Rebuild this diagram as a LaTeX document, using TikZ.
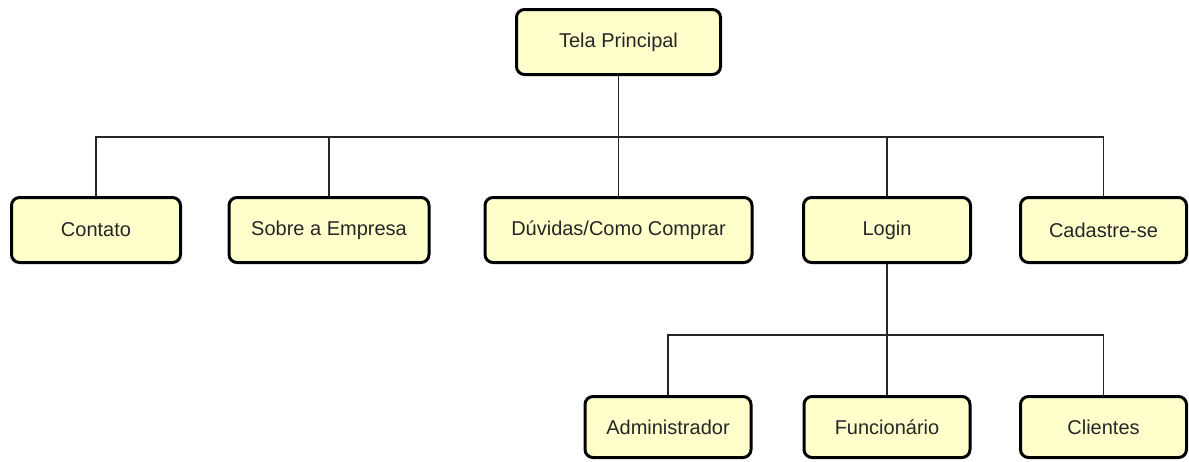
\documentclass[tikz,border=0pt]{standalone}
\usepackage{fontspec}
\setmainfont{Liberation Sans}
\definecolor{boxfill}{RGB}{255,255,204}
\tikzset{
    screen/.style={draw=black, line width=3pt, rounded corners=8pt, fill=boxfill,
        inner sep=0pt, minimum height=65pt, text=black!85,
        font=\fontsize{20}{24}\selectfont},
    link/.style={line width=1.8pt, draw=black!85}
}
\begin{document}
\begin{tikzpicture}[x=1pt, y=-1pt]
    \useasboundingbox (0,0) rectangle (1189,461);
    % root
    \node[screen, minimum width=204pt] (tela) at (618.5, 42) {Tela Principal};
    % first level
    \node[screen, minimum width=169pt] (contato) at (96, 230) {Contato};
    \node[screen, minimum width=200pt] (sobre) at (329, 230) {Sobre a Empresa};
    \node[screen, minimum width=267pt] (duvidas) at (618.5, 230) {Dúvidas/Como Comprar};
    \node[screen, minimum width=167pt] (login) at (887, 230) {Login};
    \node[screen, minimum width=166pt] (cadastro) at (1103.5, 230) {Cadastre-se};
    % second level
    \node[screen, minimum width=166pt, minimum height=61pt] (admin) at (668, 427) {Administrador};
    \node[screen, minimum width=166pt, minimum height=61pt] (func) at (887, 427) {Funcionário};
    \node[screen, minimum width=166pt, minimum height=61pt] (clientes) at (1103.5, 427) {Clientes};
    \coordinate (bus1) at (0, 137);
    \coordinate (bus2) at (0, 335);
    \foreach \kid in {contato, sobre, duvidas, login, cadastro} {
        \draw[link] (tela.south) -- (tela.south |- bus1) -| (\kid.north);
    }
    \foreach \kid in {admin, func, clientes} {
        \draw[link] (login.south) -- (login.south |- bus2) -| (\kid.north);
    }
\end{tikzpicture}
\end{document}
